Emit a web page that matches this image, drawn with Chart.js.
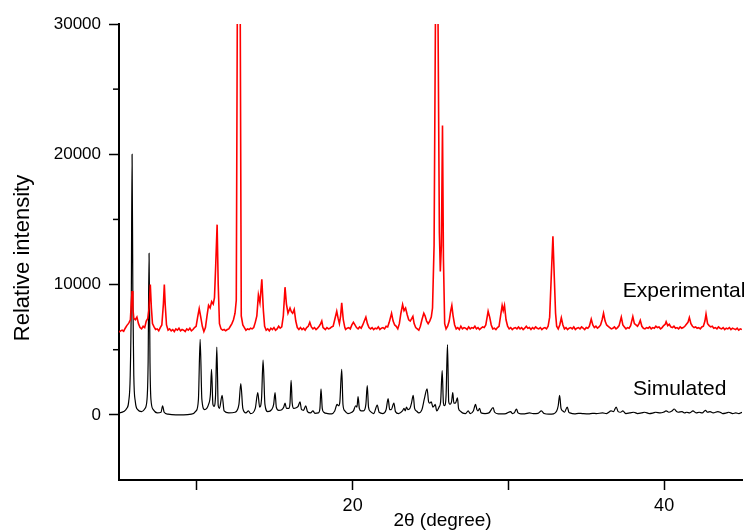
<!DOCTYPE html>
<html>
<head>
<meta charset="utf-8">
<script src="https://cdn.jsdelivr.net/npm/chart.js@4.4.1/dist/chart.umd.min.js"></script>
<style>
html,body{margin:0;padding:0;background:#fff;}
#c{display:block;}
</style>
</head>
<body>
<canvas id="c" width="752" height="531"></canvas>
<script>
// ---- data (2θ in degrees, intensity in counts) ----
const seriesNames = ["Experimental", "Simulated"];
const xTicks = [10, 20, 30, 40];
const xTickLabels = [20, 40];
const yTicks = [0, 10000, 20000, 30000];
const yMinorTicks = [5000, 15000, 25000];

const simulated = [
[5.0,150],[5.3,250],[5.5,500],[5.62,1000],[5.72,3000],[5.79,9000],[5.84,20000],[5.89,9000],[5.95,3000],[6.05,1000],[6.2,400],[6.45,250],[6.65,450],[6.8,1200],[6.87,4000],[6.93,12400],[6.99,4000],[7.05,1200],[7.2,400],[7.45,150],[7.7,200],[7.8,700],[7.9,200],[8.15,50],[8.65,0],[9.15,0],[9.65,50],[9.95,300],[10.1,1200],[10.21,5800],[10.32,1200],[10.5,400],[10.75,800],[10.87,1600],[10.94,3500],[11.03,800],[11.1,650],[11.2,1500],[11.28,5200],[11.37,700],[11.45,500],[11.62,1500],[11.75,300],[12.05,150],[12.45,200],[12.7,800],[12.82,2400],[12.95,500],[13.15,150],[13.31,300],[13.45,100],[13.75,500],[13.91,1700],[14.03,600],[14.15,1200],[14.25,4200],[14.37,800],[14.55,250],
[14.8,400],[14.93,800],[15.02,1700],[15.1,600],[15.25,350],[15.45,400],[15.58,600],[15.66,900],[15.75,500],[15.9,500],[15.98,900],[16.05,2650],[16.12,900],[16.22,500],[16.38,550],[16.5,650],[16.62,1000],[16.72,400],[16.85,350],[16.99,700],[17.1,250],[17.3,150],[17.45,300],[17.58,120],[17.8,150],[17.9,500],[17.97,2000],[18.05,500],[18.15,200],[18.4,100],[18.65,80],[18.85,300],[19.0,800],[19.1,700],[19.18,1000],[19.3,3500],[19.38,800],[19.5,300],[19.7,100],[19.95,200],[20.05,300],[20.2,700],[20.28,600],[20.35,1400],[20.43,500],[20.55,300],[20.7,300],[20.85,800],[20.94,2250],[21.02,600],[21.15,250],[21.35,100],[21.58,750],[21.7,200],[21.95,100],[22.15,400],[22.28,1250],[22.38,400],[22.48,400],[22.65,900],[22.75,250],[22.95,100],[23.2,300],[23.3,500],[23.38,300],[23.46,600],[23.55,400],[23.68,500],[23.78,900],[23.89,1500],[23.98,500],[24.1,300],[24.25,150],[24.45,400],[24.6,1200],[24.78,2000],[24.88,1000],[24.95,900],[25.05,1000],[25.15,600],[25.25,700],[25.3,800],[25.4,300],[25.55,600],[25.65,1000],[25.75,3400],[25.83,900],[25.9,700],[26.0,1500],[26.09,5400],[26.17,1000],[26.25,800],[26.35,1000],[26.43,1700],[26.5,900],[26.6,900],[26.73,1300],[26.8,500],[26.9,300],[27.05,150],[27.25,100],[27.42,300],[27.55,100],[27.75,300],[27.89,800],[27.98,400],[28.05,300],[28.15,500],[28.25,150],[28.5,100],[28.75,150],[29.02,550],[29.12,200],[29.35,80],[29.6,80],[29.85,100],[30.15,250],[30.25,100],[30.38,150],[30.52,450],[30.62,150],[30.8,80],[31.05,80],[31.35,150],[31.6,100],[31.9,120],[32.12,300],[32.3,100],[32.6,50],[32.9,80],[33.1,300],[33.2,700],[33.29,1500],[33.38,500],[33.5,300],[33.6,200],[33.78,600],[33.88,200],[33.95,150],[34.25,80],[34.5,120],[34.75,100],[35.15,80],[35.4,120],[35.65,100],[36.05,150],[36.3,100],[36.6,300],[36.75,250],[36.92,600],[37.05,250],[37.2,200],[37.35,300],[37.55,100],[37.8,150],[38.05,200],[38.3,100],[38.55,150],[38.75,200],[39.05,100],[39.3,150],[39.45,200],[39.75,150],[39.95,200],[40.13,300],[40.3,200],[40.5,300],[40.65,450],[40.8,250],[40.9,200],[41.15,250],[41.3,150],[41.45,200],[41.65,150],[41.85,300],[42.05,150],[42.25,200],[42.45,150],[42.65,350],[42.8,200],[42.95,250],[43.15,150],[43.45,250],[43.6,200],[43.75,100],[44.0,150],[44.15,200],[44.4,100],[44.6,150],[44.8,100],[45.0,200]
];

const experimental = [
[5.0,6350],[5.1,6450],[5.2,6500],[5.3,6420],[5.4,6650],[5.5,6850],[5.6,7000],[5.65,7100],[5.73,7300],[5.79,8600],[5.84,9500],[5.89,8200],[5.95,7400],[6.05,7300],[6.15,7500],[6.25,7000],[6.35,6700],[6.45,6600],[6.55,6800],[6.65,6700],[6.75,7200],[6.85,7400],[6.93,8200],[7.01,10000],[7.08,8200],[7.15,7000],[7.25,6750],[7.35,6550],[7.45,6600],[7.55,6450],[7.65,6700],[7.75,6900],[7.85,8500],[7.91,10000],[7.97,8400],[8.05,6900],[8.15,6500],[8.25,6600],[8.35,6450],[8.45,6550],[8.55,6400],[8.65,6600],[8.75,6500],[8.85,6650],[8.95,6450],[9.05,6550],[9.15,6500],[9.25,6400],[9.35,6600],[9.45,6500],[9.55,6650],[9.65,6450],[9.75,6550],[9.85,6700],[9.95,6800],[10.05,7500],[10.15,8150],[10.25,7500],[10.35,6800],[10.45,6400],[10.55,6700],[10.65,7600],[10.75,8400],[10.85,8200],[10.95,8700],[11.05,8500],[11.13,9000],[11.21,11500],[11.3,14600],[11.37,10000],[11.45,7000],[11.55,6600],[11.65,6500],[11.75,6550],[11.85,6450],[11.95,6550],[12.05,6600],[12.15,6800],[12.25,7000],[12.35,7300],[12.45,7800],[12.53,8800],[12.6,32000],[12.78,32000],[12.85,7600],[12.95,6900],[13.05,6700],[13.15,6500],[13.25,6600],[13.35,6550],[13.45,6650],[13.55,6600],[13.65,6700],[13.75,7100],[13.85,7600],[13.95,9200],[14.05,8600],[14.17,10400],[14.27,8000],[14.35,6800],[14.45,6500],[14.55,6600],[14.65,6450],[14.75,6650],[14.85,6550],[14.95,6700],[15.05,6500],[15.15,6600],[15.25,6800],[15.35,6650],[15.45,6750],[15.55,7600],[15.66,9800],[15.75,8500],[15.85,7800],[15.98,8200],[16.07,7900],[16.15,7800],[16.25,8100],[16.35,7200],[16.45,6700],[16.55,6550],[16.65,6700],[16.75,6550],[16.85,6650],[16.95,6500],[17.05,6700],[17.15,6800],[17.25,7100],[17.35,6750],[17.45,6600],[17.55,6700],[17.65,6550],[17.75,6650],[17.85,6800],[17.95,7000],[18.02,7200],[18.1,6700],[18.15,6650],[18.25,6550],[18.35,6700],[18.45,6600],[18.55,6650],[18.65,6750],[18.75,6800],[18.85,7300],[18.98,7950],[19.07,7400],[19.15,7000],[19.23,7600],[19.3,8600],[19.4,7300],[19.5,6700],[19.55,6550],[19.65,6650],[19.75,6700],[19.85,6600],[19.95,6900],[20.05,7100],[20.15,6900],[20.25,6700],[20.35,6600],[20.45,6750],[20.55,6650],[20.65,6900],[20.75,7200],[20.85,7500],[20.95,7000],[21.05,6700],[21.15,6600],[21.25,6700],[21.35,6550],[21.45,6650],[21.55,6600],[21.65,6750],[21.75,6550],[21.85,6650],[21.95,6700],[22.05,6600],[22.15,6800],[22.25,6750],[22.35,7100],[22.5,7800],[22.6,7200],[22.7,6900],[22.8,6800],[22.9,6600],[23.0,7000],[23.1,7800],[23.21,8460],[23.3,8000],[23.4,8200],[23.5,7700],[23.6,7300],[23.7,7200],[23.8,7400],[23.87,7560],[23.95,7000],[24.05,6700],[24.15,6600],[24.25,6500],[24.35,6800],[24.45,7300],[24.57,7800],[24.65,7600],[24.75,7200],[24.85,7000],[24.95,7200],[25.05,7500],[25.13,8200],[25.23,13000],[25.32,31000],[25.48,31000],[25.57,14000],[25.63,11000],[25.7,13000],[25.77,22200],[25.83,12000],[25.91,7000],[26.0,6600],[26.1,6800],[26.2,7200],[26.3,8000],[26.37,8400],[26.45,7600],[26.55,6900],[26.65,6600],[26.75,6700],[26.85,6550],[26.95,6800],[27.05,6600],[27.15,6700],[27.25,6650],[27.35,6550],[27.45,6750],[27.55,6600],[27.65,6700],[27.75,6650],[27.85,6800],[27.95,6600],[28.05,6700],[28.15,6550],[28.25,6650],[28.35,6750],[28.45,6700],[28.55,6900],[28.65,7600],[28.7,7950],[28.8,7500],[28.9,6900],[29.0,6600],[29.1,6650],[29.2,6550],[29.3,6700],[29.4,6800],[29.5,7600],[29.6,8400],[29.67,8000],[29.75,8400],[29.85,7300],[29.95,6800],[30.05,6600],[30.15,6700],[30.25,6550],[30.35,6650],[30.45,6700],[30.55,6600],[30.65,6750],[30.75,6600],[30.85,6700],[30.95,6550],[31.05,6650],[31.15,6800],[31.25,6650],[31.35,6700],[31.45,6550],[31.55,6700],[31.65,6600],[31.75,6750],[31.85,6650],[31.95,6600],[32.05,6700],[32.15,6550],[32.25,6650],[32.35,6700],[32.45,6600],[32.55,6800],[32.65,7500],[32.75,10500],[32.86,13700],[32.95,10500],[33.03,7800],[33.1,6800],[33.2,6600],[33.3,6900],[33.4,7450],[33.5,6900],[33.6,6600],[33.7,6700],[33.8,6550],[33.9,6650],[34.0,6700],[34.1,6600],[34.2,6750],[34.3,6550],[34.4,6650],[34.5,6700],[34.6,6600],[34.7,6750],[34.8,6650],[34.9,6550],[35.0,6700],[35.1,6650],[35.2,6800],[35.32,7350],[35.42,6900],[35.52,6700],[35.62,6800],[35.72,6650],[35.82,6750],[35.92,6900],[36.02,7300],[36.11,7800],[36.21,7200],[36.31,6900],[36.41,6800],[36.51,6700],[36.61,6600],[36.71,6650],[36.81,6750],[36.91,6600],[37.01,6700],[37.11,6850],[37.25,7500],[37.35,6900],[37.45,6750],[37.55,6600],[37.65,6700],[37.75,6650],[37.85,6850],[37.99,7550],[38.09,7000],[38.19,6900],[38.29,6800],[38.39,7000],[38.47,7250],[38.57,6800],[38.67,6650],[38.77,6600],[38.87,6700],[38.97,6650],[39.07,6750],[39.17,6600],[39.27,6700],[39.37,6650],[39.47,6800],[39.57,6700],[39.67,6750],[39.77,6600],[39.87,6700],[39.97,6850],[40.07,6950],[40.13,7150],[40.23,6850],[40.33,6950],[40.43,6750],[40.53,6700],[40.63,6800],[40.73,6650],[40.83,6700],[40.93,6600],[41.03,6750],[41.13,6650],[41.23,6700],[41.33,6800],[41.43,6950],[41.53,7100],[41.62,7470],[41.72,7000],[41.82,6800],[41.92,6700],[42.02,6750],[42.12,6650],[42.22,6700],[42.32,6600],[42.42,6750],[42.52,6800],[42.62,7200],[42.69,7730],[42.79,7000],[42.89,6850],[42.99,6750],[43.09,6800],[43.19,6650],[43.29,6700],[43.39,6600],[43.49,6750],[43.59,6650],[43.69,6600],[43.79,6700],[43.89,6550],[43.99,6650],[44.09,6600],[44.19,6700],[44.29,6550],[44.39,6650],[44.49,6600],[44.59,6550],[44.69,6650],[44.79,6500],[44.89,6600],[44.99,6550]
];

// ---- chart ----
const FONT = "'Liberation Sans', Arial, Helvetica, sans-serif";
const toXY = arr => arr.map(p => ({x: p[0], y: p[1]}));

const annotate = {
  id: 'annotate',
  afterDraw(chart) {
    const ctx = chart.ctx, xs = chart.scales.x, ys = chart.scales.y;
    ctx.save();
    ctx.strokeStyle = '#000';
    ctx.lineWidth = 1.5;
    yMinorTicks.forEach(v => {
      const py = ys.getPixelForValue(v);
      ctx.beginPath();
      ctx.moveTo(xs.left - 6, py);
      ctx.lineTo(xs.left, py);
      ctx.stroke();
    });
    ctx.fillStyle = '#000';
    ctx.font = '21px ' + FONT;
    ctx.textAlign = 'left';
    ctx.textBaseline = 'alphabetic';
    ctx.fillText(seriesNames[0], xs.getPixelForValue(37.35), ys.getPixelForValue(9050));
    ctx.fillText(seriesNames[1], xs.getPixelForValue(38.0), ys.getPixelForValue(1530));
    ctx.textAlign = 'center';
    ctx.textBaseline = 'middle';
    ctx.font = '19px ' + FONT;
    ctx.fillText('2θ (degree)', (xs.left + xs.right) / 2 + 12, 521);
    ctx.save();
    ctx.translate(23, (ys.top + ys.bottom) / 2 + 6);
    ctx.rotate(-Math.PI / 2);
    ctx.font = '22px ' + FONT;
    ctx.fillText('Relative intensity', 0, 0);
    ctx.restore();
    ctx.restore();
  }
};

new Chart(document.getElementById('c'), {
  type: 'line',
  data: {
    datasets: [
      {
        label: seriesNames[0],
        data: toXY(experimental),
        borderColor: '#ff0000',
        borderWidth: 1.6,
        pointRadius: 0,
        tension: 0,
        fill: false
      },
      {
        label: seriesNames[1],
        data: toXY(simulated),
        borderColor: '#000000',
        borderWidth: 1.2,
        pointRadius: 0,
        cubicInterpolationMode: 'monotone',
        fill: false
      }
    ]
  },
  options: {
    responsive: false,
    animation: false,
    devicePixelRatio: 1,
    layout: { padding: { top: 24, right: 10, left: 0, bottom: 0 } },
    plugins: { legend: { display: false }, tooltip: { enabled: false }, title: { display: false } },
    scales: {
      x: {
        type: 'linear',
        min: 5, max: 45,
        afterBuildTicks: s => { s.ticks = xTicks.map(v => ({ value: v })); },
        afterFit: s => { s.height = 51; },
        ticks: {
          callback: v => (xTickLabels.includes(v) ? String(v) : ''),
          font: { family: FONT, size: 18 }, color: '#000',
          padding: 5, maxRotation: 0, autoSkip: false
        },
        grid: { drawOnChartArea: false, drawTicks: true, tickLength: 10, tickColor: '#000', tickWidth: 1.5 },
        border: { display: true, color: '#000', width: 2 }
      },
      y: {
        min: -5000, max: 30000,
        afterBuildTicks: s => { s.ticks = yTicks.map(v => ({ value: v })); },
        afterFit: s => { s.width = 119; },
        ticks: {
          font: { family: FONT, size: 17 }, color: '#000', padding: 8,
          callback: v => String(v)
        },
        grid: { drawOnChartArea: false, drawTicks: true, tickLength: 10, tickColor: '#000', tickWidth: 1.5 },
        border: { display: true, color: '#000', width: 2 }
      }
    }
  },
  plugins: [annotate]
});
</script>
</body>
</html>
